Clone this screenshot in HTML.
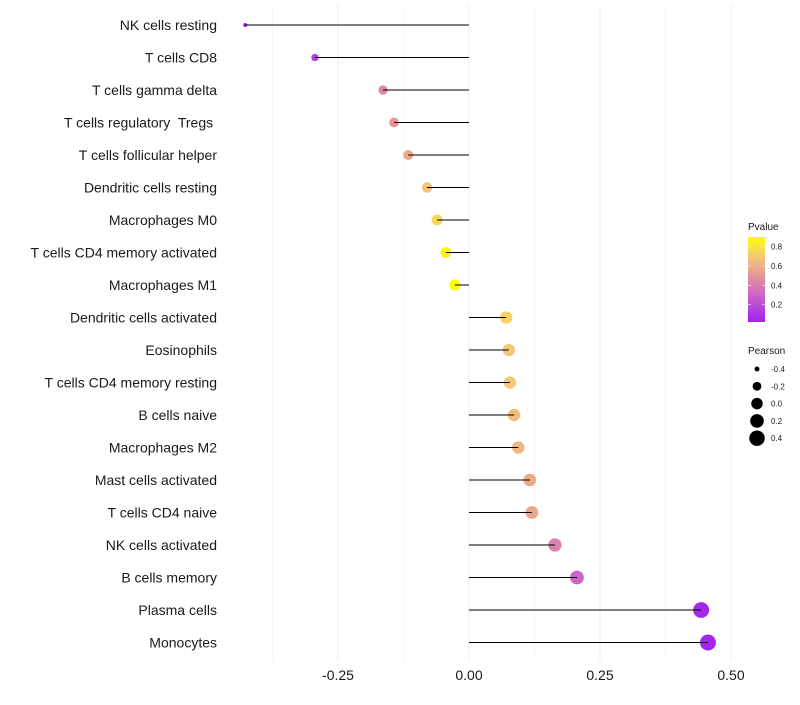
<!DOCTYPE html>
<html><head><meta charset="utf-8"><style>
body{margin:0;background:#fff;}
svg text{font-family:"Liberation Sans",sans-serif;white-space:pre;}
</style></head><body>
<svg id="chart" width="800" height="700"></svg>
<script>
const categories=["NK cells resting","T cells CD8","T cells gamma delta","T cells regulatory  Tregs ","T cells follicular helper","Dendritic cells resting","Macrophages M0","T cells CD4 memory activated","Macrophages M1","Dendritic cells activated","Eosinophils","T cells CD4 memory resting","B cells naive","Macrophages M2","Mast cells activated","T cells CD4 naive","NK cells activated","B cells memory","Plasma cells","Monocytes"];
const pearson=[-0.427,-0.294,-0.164,-0.143,-0.116,-0.080,-0.061,-0.044,-0.027,0.071,0.076,0.078,0.086,0.094,0.116,0.120,0.164,0.206,0.443,0.456];
const pvalues=[0.03,0.15,0.45,0.5,0.58,0.68,0.75,0.86,0.92,0.74,0.7,0.7,0.66,0.64,0.58,0.57,0.42,0.3,0.05,0.04];
const xTicks=[-0.25,0,0.25,0.5];
const xTickLabels=["-0.25","0.00","0.25","0.50"];
const xMinor=[-0.375,-0.125,0.125,0.375];
const pLegendTicks=[0.2,0.4,0.6,0.8];
const sizeLegend=[-0.4,-0.2,0,0.2,0.4];

const NS="http://www.w3.org/2000/svg";
const svg=document.getElementById('chart');
function el(t,a,p){const e=document.createElementNS(NS,t);for(const k in a)e.setAttribute(k,a[k]);(p||svg).appendChild(e);return e;}
const xS=v=>469+v*524;
const yS=i=>25+i*32.5;
const rS=v=>Math.sqrt(Math.max(3,33+67.4*v));
function lerp(a,b,t){return a.map((x,i)=>Math.round(x+(b[i]-x)*t));}
const stops=[[0.02,[160,32,240]],[0.3,[205,100,200]],[0.5,[228,150,150]],[0.7,[242,200,120]],[0.9,[255,255,0]]];
function col(p){p=Math.max(0.02,Math.min(0.9,p));for(let i=0;i<stops.length-1;i++){if(p<=stops[i+1][0]){const t=(p-stops[i][0])/(stops[i+1][0]-stops[i][0]);const c=lerp(stops[i][1],stops[i+1][1],t);return `rgb(${c})`;}}return 'rgb(255,255,0)';}

xMinor.forEach(v=>{const g=el('line',{x1:xS(v),x2:xS(v),y1:5,y2:660,stroke:'#f5f5f5','stroke-width':1});});
xTicks.forEach((v,i)=>{const g=el('line',{x1:xS(v),x2:xS(v),y1:5,y2:660,stroke:'#eeeeee','stroke-width':1});
const t=el('text',{x:xS(v),y:680,'text-anchor':'middle','font-size':14,fill:'#1a1a1a'});t.textContent=xTickLabels[i];});

categories.forEach((c,i)=>{
const y=yS(i);
const t=el('text',{x:217,y:y+5,'text-anchor':'end','font-size':14,fill:'#1a1a1a','xml:space':'preserve'});t.textContent=c;


const d=el('circle',{cx:xS(pearson[i]),cy:y,r:rS(pearson[i]),fill:col(pvalues[i])});


const l=el('line',{x1:xS(0),x2:xS(pearson[i]),y1:y,y2:y,stroke:'#000','stroke-width':1});


});

const defs=el('defs',{});
const lg=el('linearGradient',{id:'pg',x1:0,y1:1,x2:0,y2:0},defs);
for(let k=0;k<=10;k++){const p=0.02+0.88*k/10;el('stop',{offset:k/10,'stop-color':col(p)},lg);}
const tt=el('text',{x:748,y:230,'font-size':10,fill:'#1a1a1a'});tt.textContent='Pvalue';
const bar=el('rect',{x:748,y:237,width:17,height:85,fill:'url(#pg)'});
const pY=p=>322-(p-0.02)/0.88*85;
pLegendTicks.forEach(p=>{el('line',{x1:748,x2:751,y1:pY(p),y2:pY(p),stroke:'#fff','stroke-width':0.6});el('line',{x1:762,x2:765,y1:pY(p),y2:pY(p),stroke:'#fff','stroke-width':0.6});
const t=el('text',{x:771,y:pY(p)+3,'font-size':8,fill:'#1a1a1a'});t.textContent=p.toFixed(1);});
const st=el('text',{x:748,y:354,'font-size':10,fill:'#1a1a1a'});st.textContent='Pearson';
sizeLegend.forEach((v,i)=>{const y=369+i*17.3;const c=el('circle',{cx:757,cy:y,r:rS(v),fill:'#000'});
const t=el('text',{x:771,y:y+3,'font-size':8,fill:'#1a1a1a'});t.textContent=v.toFixed(1);});
</script>
</body></html>
